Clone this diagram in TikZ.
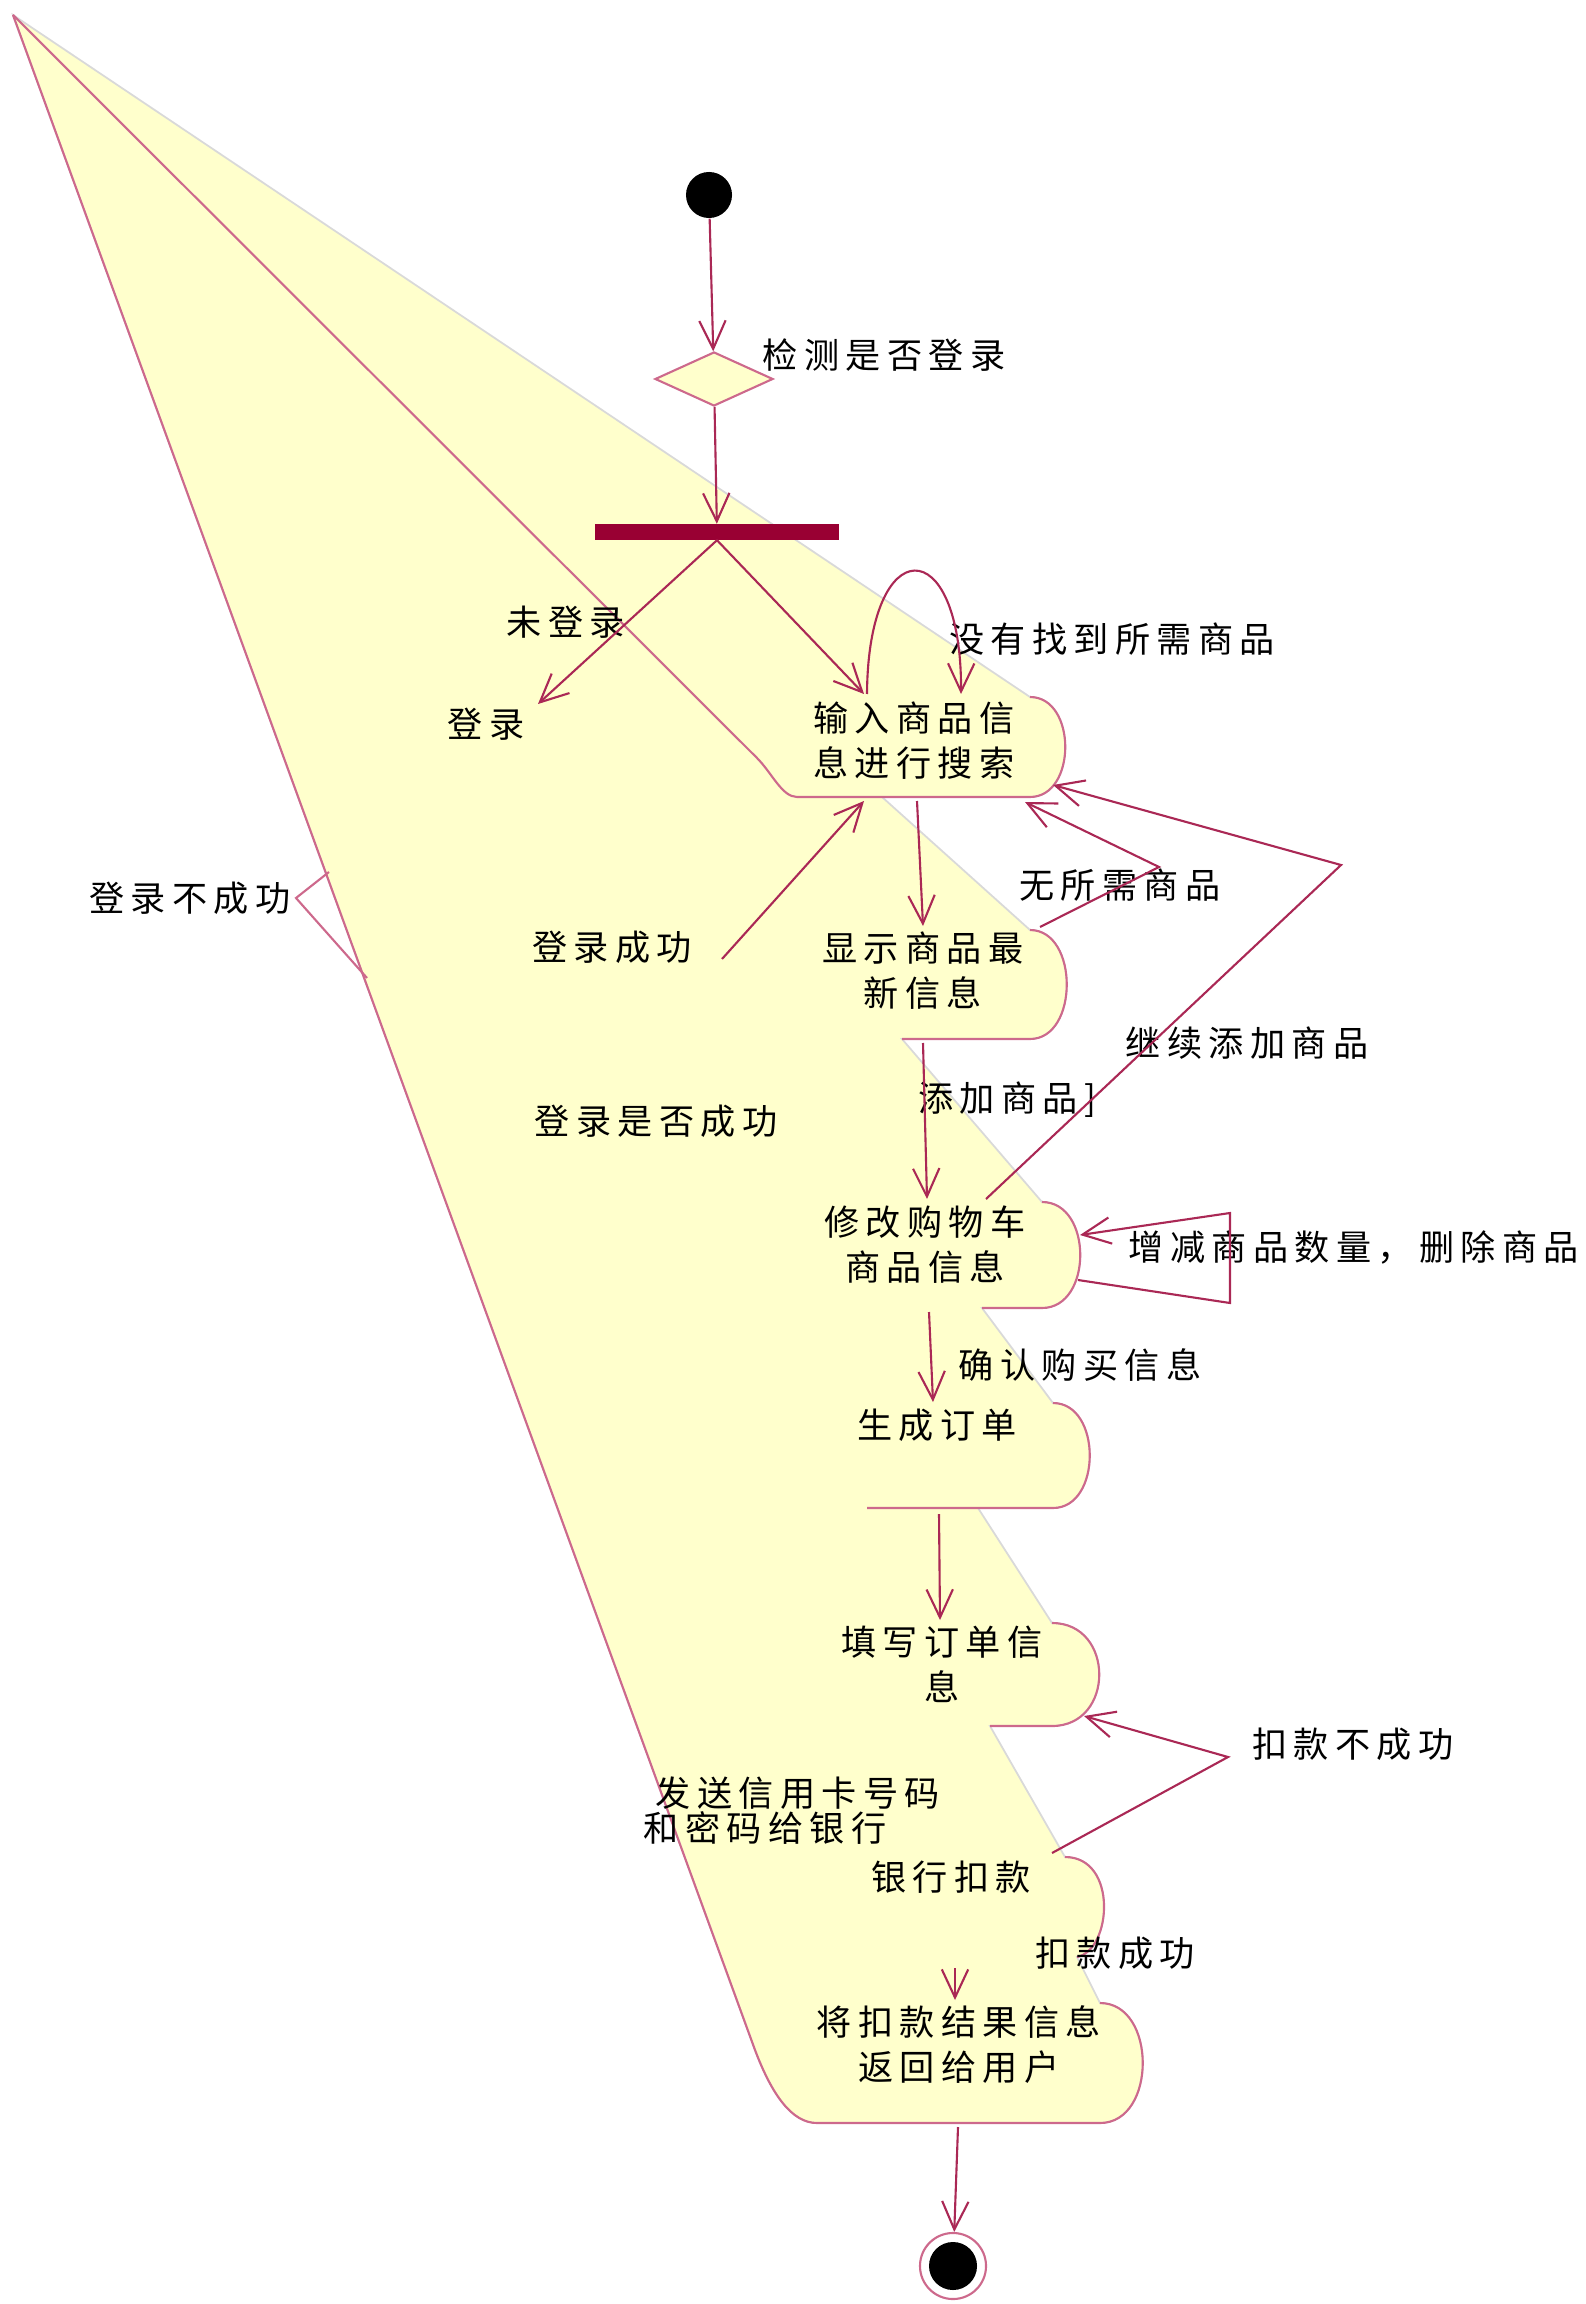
\documentclass[tikz,border=0pt]{standalone}
\usepackage{fontspec}
\setmainfont{Noto Sans CJK SC}[LetterSpace=18]
\usetikzlibrary{arrows.meta,shapes.geometric}

\definecolor{umlline}{RGB}{170,40,85}
\definecolor{umledge}{RGB}{205,105,140}
\definecolor{umlfill}{RGB}{255,255,204}
\definecolor{umlbar}{RGB}{153,0,51}

\tikzset{
  actline/.style={draw=umledge, line width=0.6pt},
  flow/.style={draw=umlline, line width=0.6pt, -{Straight Barb[length=8pt,width=7.5pt]}},
  lbl/.style={inner sep=0pt, align=center, font=\fontsize{10pt}{12.8pt}\selectfont},
  startdot/.style={circle, fill=black, minimum size=0.46cm, inner sep=0pt},
  decision/.style={diamond, draw=umledge, fill=umlfill, line width=0.6pt, minimum width=1.18cm, minimum height=0.54cm, inner sep=0pt},
  forkbar/.style={rectangle, fill=umlbar, minimum width=2.43cm, minimum height=0.15cm, inner sep=0pt},
  endring/.style={circle, draw=umledge, fill=white, line width=0.6pt, minimum size=0.66cm, inner sep=0pt},
}

\begin{document}
\begin{tikzpicture}[x=0.01cm, y=-0.01cm]
\useasboundingbox (0,0) rectangle (1585,2304);
\coordinate (apex) at (13,15);

% activity area
\filldraw[fill=umlfill, draw=gray!30, line width=0.5pt]
  (apex) -- (1030,697) .. controls (1077,697) and (1077,797) .. (1030,797)
  -- (882,797) -- (1030,930) .. controls (1079,930) and (1079,1039) .. (1030,1039)
  -- (902,1039) -- (1042,1202) .. controls (1093,1202) and (1093,1308) .. (1042,1308)
  -- (982,1308) -- (1053,1403) .. controls (1102,1403) and (1102,1508) .. (1053,1508)
  -- (978,1508) -- (1052,1623) .. controls (1115,1623) and (1115,1726) .. (1052,1726)
  -- (990,1726) -- (1065,1857) .. controls (1118,1857) and (1112,1950) .. (1077,1957)
  -- (1100,2003) .. controls (1157,2003) and (1157,2123) .. (1100,2123)
  -- (817,2123) .. controls (792,2123) and (772,2095) .. (755,2050) -- cycle;

\draw[actline] (apex) -- (757,758) .. controls (772,773) and (782,797) .. (797,797) -- (1030,797)
  .. controls (1077,797) and (1077,697) .. (1030,697);
\draw[actline] (1030,930) .. controls (1079,930) and (1079,1039) .. (1030,1039) -- (902,1039);
\draw[actline] (1042,1202) .. controls (1093,1202) and (1093,1308) .. (1042,1308) -- (982,1308);
\draw[actline] (1053,1403) .. controls (1102,1403) and (1102,1508) .. (1053,1508) -- (867,1508);
\draw[actline] (1052,1623) .. controls (1115,1623) and (1115,1726) .. (1052,1726) -- (990,1726);
\draw[actline] (1065,1857) .. controls (1118,1857) and (1112,1950) .. (1077,1957);
\draw[actline] (apex) -- (755,2050) .. controls (772,2095) and (792,2123) .. (817,2123) -- (1100,2123)
  .. controls (1157,2123) and (1157,2003) .. (1100,2003);

\node[startdot] (start) at (709,195) {};
\node[decision] (check) at (714,379) {};
\node[forkbar] (fork) at (717,532) {};
\node[endring] (end) at (953,2266) {};
\node[startdot, minimum size=0.48cm] (endcore) at (end) {};

\node[lbl] (search) at (914,741) {输入商品信\\息进行搜索};
\node[lbl] (show) at (923,971) {显示商品最\\新信息};
\node[lbl] (modify) at (925,1245) {修改购物车\\商品信息};
\node[lbl] (order) at (937,1425) {生成订单};
\node[lbl] (fillin) at (942,1664) {填写订单信\\息};
\node[lbl] (bank) at (951,1877) {银行扣款};
\node[lbl] (result) at (959,2045) {将扣款结果信息\\返回给用户};

\node[lbl] (l-check) at (884,355) {检测是否登录};
\node[lbl] (l-notin) at (566,622) {未登录};
\node[lbl] (login) at (486,724) {登录};
\node[lbl] (l-nofind) at (1112,639) {没有找到所需商品};
\node[lbl] (l-ok) at (612,947) {登录成功};
\node[lbl] (l-fail) at (190,898) {登录不成功};
\node[lbl] (l-ask) at (656,1121) {登录是否成功};
\node[lbl] (l-none) at (1120,885) {无所需商品};
\node[lbl] (l-more) at (1247,1043) {继续添加商品};
\node[lbl] (l-add) at (1007,1100) {添加商品]};
\node[lbl] (l-edit) at (1354,1247) {增减商品数量，删除商品};
\node[lbl] (l-confirm) at (1080,1365) {确认购买信息};
\node[lbl] (l-payfail) at (1353,1744) {扣款不成功};
\node[lbl, anchor=west] (l-send1) at (655,1793) {发送信用卡号码};
\node[lbl, anchor=west] (l-send2) at (643,1828) {和密码给银行};
\node[lbl] (l-payok) at (1115,1953) {扣款成功};

\coordinate (login-tip) at (538,704);
\coordinate (search-in) at (864,694);
\coordinate (search-la) at (867,694);
\coordinate (search-lb) at (961,694);
\coordinate (search-b) at (917,801);
\coordinate (search-b2) at (864,801);
\coordinate (search-r) at (1025,802);
\coordinate (search-r2) at (1053,785);
\coordinate (ok-a) at (722,959);
\coordinate (show-t) at (923,926);
\coordinate (show-r) at (1040,927);
\coordinate (show-b) at (923,1043);
\coordinate (none-v) at (1159,867);
\coordinate (more-v) at (1341,865);
\coordinate (modify-t) at (927,1199);
\coordinate (modify-tr) at (986,1199);
\coordinate (modify-r) at (1080,1235);
\coordinate (modify-r2) at (1078,1280);
\coordinate (edit-a) at (1230,1213);
\coordinate (edit-b) at (1230,1303);
\coordinate (modify-b) at (929,1312);
\coordinate (order-t) at (933,1402);
\coordinate (order-b) at (939,1514);
\coordinate (fillin-t) at (940,1620);
\coordinate (fillin-r) at (1084,1716);
\coordinate (bank-r) at (1052,1853);
\coordinate (payfail-v) at (1228,1757);
\coordinate (payok-a) at (955,1968);
\coordinate (result-t) at (955,2000);
\coordinate (result-b) at (958,2127);
\coordinate (fail-a) at (329,872);
\coordinate (fail-v) at (296,898);
\coordinate (fail-b) at (367,978);

\draw[flow] (start) -- (check);
\draw[flow] (check) -- (fork);
\draw[flow] (fork.south) -- (login-tip);
\draw[flow] (fork.south) -- (search-in);
\draw[flow] (search-la) .. controls (868,530) and (962,530) .. (search-lb);
\draw[flow] (search-b) -- (show-t);
\draw[flow] (ok-a) -- (search-b2);
\draw[flow] (show-r) -- (none-v) -- (search-r);
\draw[flow] (modify-tr) -- (more-v) -- (search-r2);
\draw[flow] (show-b) -- (modify-t);
\draw[flow] (modify-r2) -- (edit-b) -- (edit-a) -- (modify-r);
\draw[flow] (modify-b) -- (order-t);
\draw[flow] (order-b) -- (fillin-t);
\draw[flow] (bank-r) -- (payfail-v) -- (fillin-r);
\draw[flow] (payok-a) -- (result-t);
\draw[flow] (result-b) -- (end);
\draw[actline] (fail-a) -- (fail-v) -- (fail-b);
\end{tikzpicture}
\end{document}
